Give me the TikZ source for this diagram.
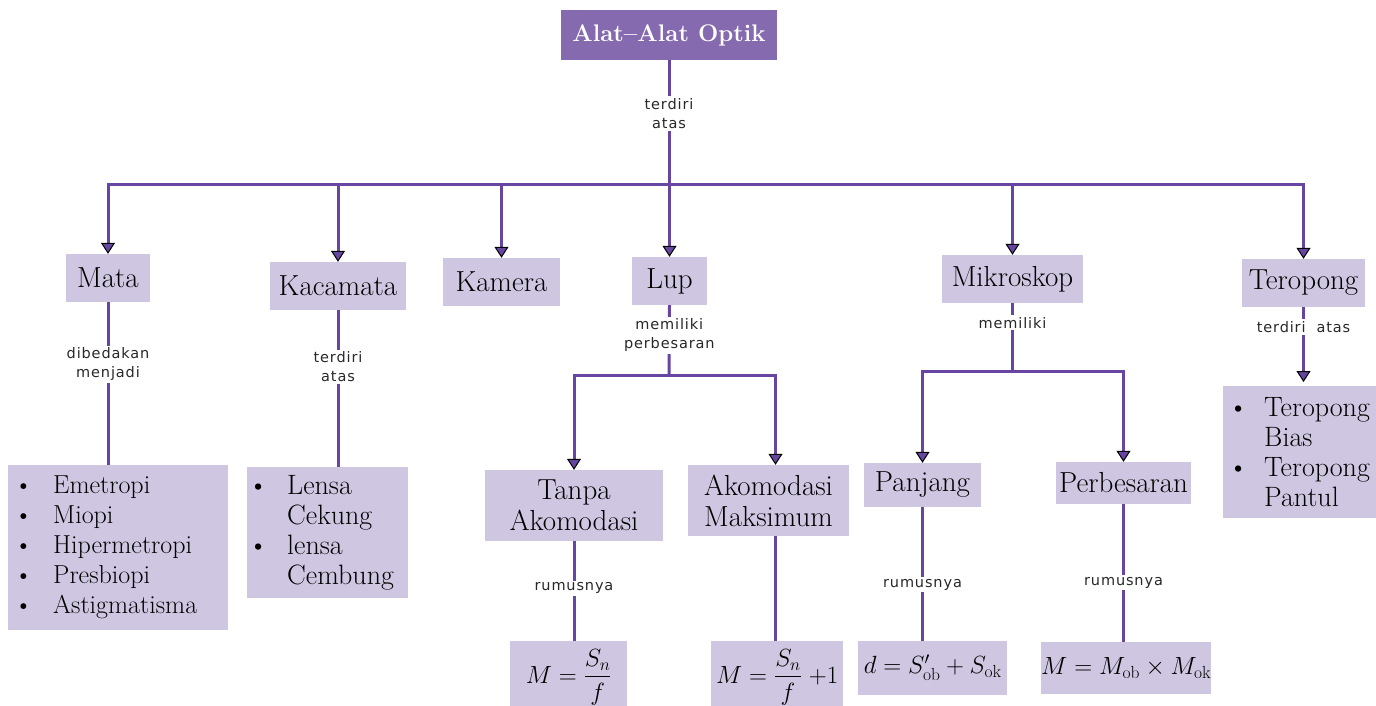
\documentclass[tikz,border=0pt]{standalone}
\usepackage{fontspec}
\usepackage{amsmath}
\usetikzlibrary{arrows.meta,positioning}
\newfontfamily\lblfont[LetterSpace=6]{DejaVu Sans}

\definecolor{linec}{RGB}{102,70,160}
\definecolor{headc}{RGB}{133,106,176}
\definecolor{boxc}{RGB}{207,198,225}
\definecolor{lblc}{RGB}{40,40,40}

\newcommand{\bul}{\makebox[30pt][l]{\hspace{-9pt}\textbullet}}
\newcommand{\nobul}{\makebox[30pt]{}}

\tikzset{
  box/.style={fill=boxc, inner sep=0pt, align=center, font=\fontsize{29}{31}\selectfont},
  listbox/.style={box, anchor=north west, align=left},
  head/.style={fill=headc, text=white, inner sep=0pt, font=\bfseries\fontsize{24}{28}\selectfont},
  link/.style={draw=linec, line width=3pt},
  arr/.style={link, -{Triangle[length=11pt,width=14pt,color=black,fill=linec,line width=1pt]}},
  lbl/.style={fill=white, inner sep=2pt, text=lblc, align=center, font=\lblfont\fontsize{14.5}{19}\selectfont},
  formula/.style={box, anchor=north west, font=\fontsize{25}{30}\selectfont},
}

\begin{document}
\begin{tikzpicture}[x=1pt,y=-1pt]
\useasboundingbox (0,0) rectangle (1376,706);

% top
\node[head, minimum width=216, minimum height=50] (title) at (669,35) {Alat--Alat Optik};
\coordinate (bus) at (669,184);

% first row
\node[box, minimum width=84, minimum height=48] (mata) at (108,278) {Mata};
\node[box, minimum width=136, minimum height=48] (kacamata) at (338,286) {Kacamata};
\node[box, minimum width=117, minimum height=48] (kamera) at (501.5,282) {Kamera};
\node[box, minimum width=75, minimum height=48] (lup) at (669.5,281) {Lup};
\node[box, minimum width=141, minimum height=48] (mikro) at (1012.5,279) {Mikroskop};
\node[box, minimum width=123, minimum height=48] (teropong) at (1303.5,283) {Teropong};

% lists
\node[listbox, minimum width=220, minimum height=165, inner xsep=15pt, text width=190pt,
      font=\fontsize{26}{30}\selectfont] (matalist) at (8,465)
  {\bul Emetropi\\ \bul Miopi\\ \bul Hipermetropi\\ \bul Presbiopi\\ \bul Astigmatisma};
\node[listbox, minimum width=161, minimum height=131, inner xsep=10pt, text width=141pt,
      font=\fontsize{28}{30}\selectfont] (kacalist) at (247,467)
  {\bul Lensa\\ \nobul Cekung\\ \bul lensa\\ \nobul Cembung};
\node[listbox, minimum width=165, minimum height=132, inner xsep=14pt, text width=137pt,
      font=\fontsize{28}{30}\selectfont] (teroplist) at (1223,386)
  {\makebox[27pt][l]{\hspace{-9pt}\textbullet}Teropong\\ \makebox[27pt]{}Bias\\
   \makebox[27pt][l]{\hspace{-9pt}\textbullet}Teropong\\ \makebox[27pt]{}Pantul};

% lup
\coordinate (lupbus) at (669,375);
\node[box, minimum width=178, minimum height=71] (tanpa) at (574,505.5) {Tanpa\\Akomodasi};
\node[box, minimum width=161, minimum height=71] (maks) at (768.5,500.5) {Akomodasi\\Maksimum};
\coordinate (maksin) at ([xshift=7pt]maks.north);
\node[formula, minimum width=117, minimum height=72] (rumus1) at (510,641) {$M = \dfrac{S_n}{f}$};
\node[formula, minimum width=132, minimum height=72] (rumus2) at (711,641) {$M = \dfrac{S_n}{f}\;{+}1$};

% mikroskop
\coordinate (mikbus) at (1012.5,371);
\node[box, minimum width=117, minimum height=44] (panjang) at (922.5,485) {Panjang};
\node[box, minimum width=135, minimum height=42] (perbesaran) at (1123.5,483) {Perbesaran};
\node[formula, minimum width=149, minimum height=54] (rumus3) at (858,641) {$d = S'_{\mathrm{ob}} + S_{\mathrm{ok}}$};
\node[formula, minimum width=170, minimum height=52] (rumus4) at (1041,642) {$M = M_{\mathrm{ob}} \times M_{\mathrm{ok}}$};

% connectors
\draw[link] (title) -- node[lbl, pos=0.43] {terdiri\\atas} (bus);
\foreach \n in {mata,kacamata,kamera,lup,mikro,teropong}
  \draw[arr] (bus) -| (\n.north);

\draw[link] (mata.south) -- node[lbl, pos=0.38] {dibedakan\\menjadi} (mata.south |- matalist.north);
\draw[link] (kacamata.south) -- node[lbl, pos=0.36] {terdiri\\atas} (kacamata.south |- kacalist.north);

\draw[link] (lup.south) -- node[lbl, pos=0.43] {memiliki\\perbesaran} (lupbus);
\draw[arr] (lupbus) -| (tanpa.north);
\draw[arr] (lupbus) -| (maksin);
\draw[link] (tanpa.south) -- node[lbl, pos=0.47] {rumusnya} (tanpa.south |- rumus1.north);
\draw[link] (maksin |- maks.south) -- (maksin |- rumus2.north);

\draw[link] (mikro.south) -- node[lbl, pos=0.29] {memiliki} (mikbus);
\draw[arr] (mikbus) -| (panjang.north);
\draw[arr] (mikbus) -| (perbesaran.north);
\draw[link] (panjang.south) -- node[lbl, pos=0.58] {rumusnya} (panjang.south |- rumus3.north);
\draw[link] (perbesaran.south) -- node[lbl, pos=0.57] {rumusnya} (perbesaran.south |- rumus4.north);

\draw[arr, shorten >=4pt] (teropong.south) -- node[lbl, pos=0.25] {terdiri\ \ atas} (teropong.south |- teroplist.north);
\end{tikzpicture}
\end{document}
